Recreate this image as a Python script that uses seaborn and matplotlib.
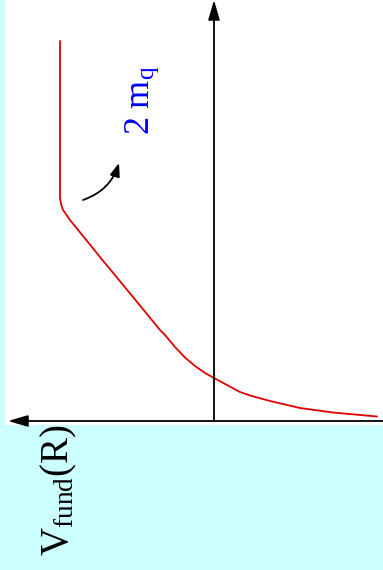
import numpy as np
import pandas as pd
import matplotlib
matplotlib.use("Agg")
import matplotlib.pyplot as plt
import seaborn as sns

# potential curve (rotated picture: V runs to the left, R runs upwards)
V_vals = [-1.63, -1.19, -0.86, -0.56, -0.36, -0.26, -0.13, 0.00, 0.09, 0.19,
          0.29, 0.39, 0.49, 0.54, 0.72, 1.14, 1.44, 1.51, 1.53, 1.54, 1.54]
R_vals = [0.045, 0.085, 0.13, 0.20, 0.255, 0.29, 0.36, 0.43, 0.48, 0.55,
          0.635, 0.74, 0.86, 0.91, 1.13, 1.64, 2.01, 2.11, 2.17, 2.23, 3.80]

label_2mq = r"$\mathregular{2\ m_q}$"
label_V = r"$\mathregular{V_{fund}(R)}$"

sns.set_style("white")
plt.rcParams["mathtext.fontset"] = "stix"
plt.rcParams["font.family"] = ["Liberation Serif", "DejaVu Serif"]

df = pd.DataFrame({"V": V_vals, "R": R_vals})

fig = plt.figure(figsize=(3.83, 5.70), dpi=100, facecolor="#ccffff")
ax = fig.add_axes([5 / 383, 145 / 570, 378 / 383, 425 / 570])
ax.set_facecolor("white")

sns.lineplot(data=df, x="V", y="R", sort=False, estimator=None,
             color="#e00000", lw=1.3, ax=ax)

ax.set_xlim(2.09, -1.69)
ax.set_ylim(-0.04, 4.21)
for s in ax.spines.values():
    s.set_visible(False)
ax.set_xticks([])
ax.set_yticks([])
ax.set_xlabel("")
ax.set_ylabel("")

# axes arrows
ax.annotate("", xy=(2.06, 0), xytext=(-1.69, 0),
            arrowprops=dict(arrowstyle="-|>,head_length=1.2,head_width=0.35",
                            color="black", lw=1.3, shrinkA=0, shrinkB=0))
ax.annotate("", xy=(0, 4.21), xytext=(0, 0),
            arrowprops=dict(arrowstyle="-|>,head_length=1.2,head_width=0.35",
                            color="black", lw=1.3, shrinkA=0, shrinkB=0))

# curved arrow towards the 2 m_q label
ax.annotate("", xy=(0.95, 2.58), xytext=(1.31, 2.21),
            arrowprops=dict(arrowstyle="-|>,head_length=0.8,head_width=0.3",
                            connectionstyle="arc3,rad=0.25",
                            color="black", lw=1.3, shrinkA=0, shrinkB=0))

ax.text(0.72, 3.21, label_2mq, color="blue", fontsize=26, rotation=90,
        ha="center", va="center")

fig.text(59 / 383, 1 - 490 / 570, label_V, color="black", fontsize=28,
         rotation=90, ha="center", va="center")

fig.savefig("out.png", dpi=100, facecolor=fig.get_facecolor())
